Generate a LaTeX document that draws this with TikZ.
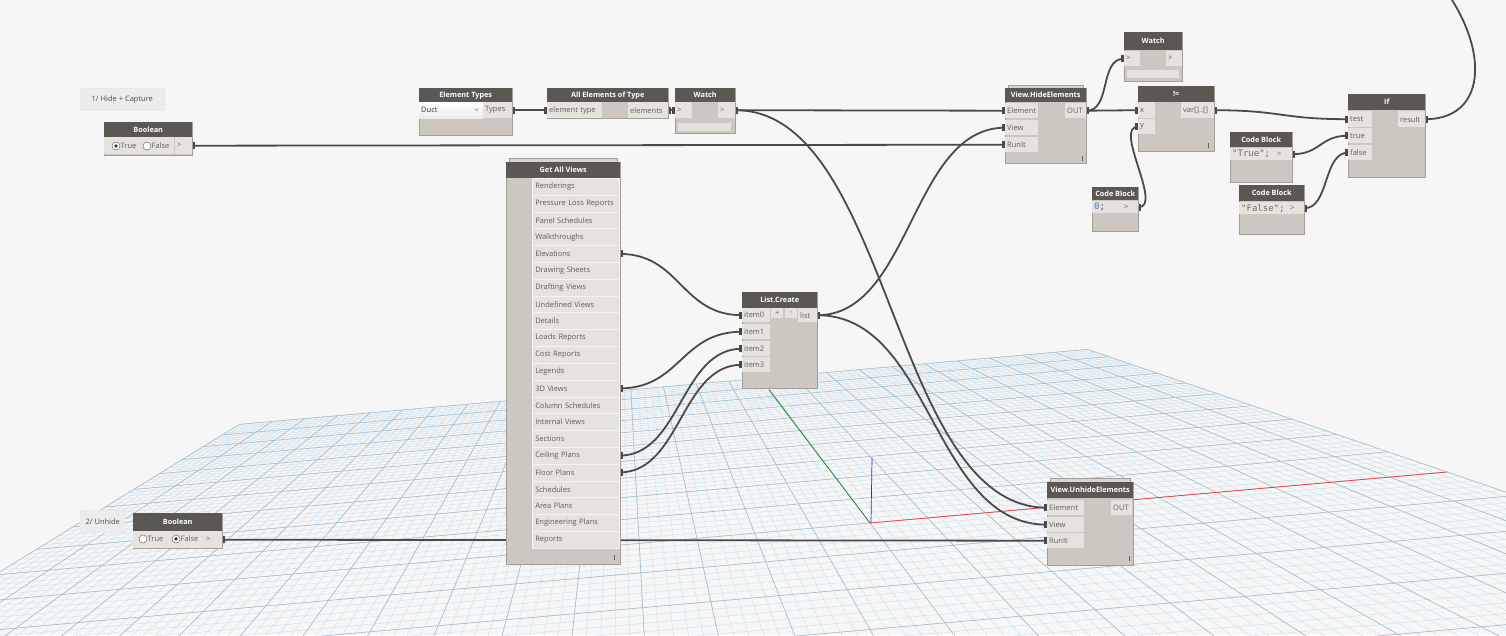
\documentclass[tikz,border=0pt]{standalone}
\usepackage{fontspec}
\setmainfont{Open Sans}
\newfontfamily\codefont{DejaVu Sans Mono}
\usetikzlibrary{calc}
\pgfdeclarelayer{gridlayer}
\pgfdeclarelayer{wirelayer}
\pgfsetlayers{gridlayer,wirelayer,main}
\definecolor{canvasc}{HTML}{F6F6F6}
\definecolor{hdrc}{HTML}{5B5853}
\definecolor{bodyc}{HTML}{CCC8C1}
\definecolor{portc}{HTML}{E6E3DE}
\definecolor{bordc}{HTML}{A29E98}
\definecolor{ptxt}{HTML}{5E5E5E}
\definecolor{wirec}{HTML}{4A4A4A}
\definecolor{gminc}{HTML}{D0E3EF}
\definecolor{gmajc}{HTML}{A9BCC8}
\definecolor{notec}{HTML}{ECECEC}
\definecolor{lipc}{HTML}{D8D5D0}
\definecolor{strc}{HTML}{7E675C}
\definecolor{numc}{HTML}{3A7BD0}
\newcommand\fs{\fontsize{7.5}{8.5}\selectfont}
\newcommand\fh{\fontsize{7.3}{8.5}\selectfont}
\tikzset{
  nbody/.style={draw=bordc, line width=0.6pt, fill=bodyc, inner sep=0pt, anchor=north west},
  nhead/.style={fill=hdrc, inner sep=0pt, anchor=north west, text=white, font=\bfseries\fh},
  pbox/.style={fill=portc, inner sep=0pt, inner xsep=2pt, anchor=north west, align=left, text=ptxt, font=\fs},
  gvrow/.style={fill=portc, draw=white!60!portc, line width=0.5pt, inner sep=0pt, inner xsep=3pt, anchor=north west, align=left, text=ptxt, font=\fs, text width=81pt},
  ptext/.style={inner sep=0pt, text=ptxt, font=\fs},
  wire/.style={draw=wirec, line width=1.8pt},
  gmin/.style={draw=gminc, line width=0.5pt},
  gmaj/.style={draw=gmajc, line width=0.6pt},
  note/.style={fill=notec, draw=black!9, line width=0.5pt, anchor=north west, inner sep=0pt, text=black!70, font=\fs},
  radio/.style={draw=black!60, fill=white, line width=0.5pt},
  infomark/.style={draw=ptxt, line width=0.6pt},
  lip/.style={fill=lipc, draw=bordc, line width=0.4pt},
  bar/.style={fill=portc, draw=none},
  codetxt/.style={font=\codefont\fontsize{9}{9}\selectfont},
}
% name, x, y, w, h, header height, title
\newcommand\dnode[7]{%
  \node[nbody, minimum width=#4pt, minimum height=#5pt] (#1) at (#2,#3) {};
  \node[nhead, minimum width=#4pt, minimum height=#6pt] (#1-h) at (#2,#3) {#7};}
% name, x, y, w, h, text
\newcommand\pb[6]{%
  \pgfmathsetlengthmacro\tw{#4-4}%
  \node[pbox, text width=\tw, minimum height=#5pt] (#1) at (#2,#3) {\mbox{#6}};}
\newcommand\wire[2]{%
  \draw[wire] let \p1=(#1), \p2=(#2), \n1={max(abs(\x2-\x1)/2,25)} in
    (\p1) .. controls ($(\p1)+(\n1,0)$) and ($(\p2)-(\n1,0)$) .. (\p2);
  \fill[wirec] ($(#1)+(0,-3.5)$) rectangle ($(#1)+(3,3.5)$);
  \fill[wirec] ($(#2)+(-3,-3.5)$) rectangle ($(#2)+(0,3.5)$);}
\begin{document}
\begin{tikzpicture}[x=1pt,y=-1pt]
\useasboundingbox (0,0) rectangle (1506,635);
% ---------- background and perspective grid
\begin{pgfonlayer}{gridlayer}
\fill[canvasc] (0,0) rectangle (1506,635);
\begin{scope}
\clip (0,0) rectangle (1506,635);
\foreach \v in {-50,...,50} {
  \pgfmathsetmacro\s{\v/65}
  \pgfmathsetmacro\xa{(870+620*\s-923.2)/(1+\s)}
  \pgfmathsetmacro\ya{(523+190*\s+81.6)/(1+\s)}
  \pgfmathsetmacro\xb{(870+620*\s+577)/(1+\s)}
  \pgfmathsetmacro\yb{(523+190*\s-51)/(1+\s)}
  \draw[gmin] (\xa,\ya) -- (\xb,\yb);
}
\foreach \u in {-80,...,50} {
  \pgfmathsetmacro\xa{(393.08+11.54*\u)/0.23077}
  \pgfmathsetmacro\ya{(376.85-1.02*\u)/0.23077}
  \pgfmathsetmacro\xb{(1346.92+11.54*\u)/1.76923}
  \pgfmathsetmacro\yb{(669.15-1.02*\u)/1.76923}
  \draw[gmin] (\xa,\ya) -- (\xb,\yb);
}
\foreach \v in {-50,-45,...,50} {
  \pgfmathsetmacro\s{\v/65}
  \pgfmathsetmacro\xa{(870+620*\s-923.2)/(1+\s)}
  \pgfmathsetmacro\ya{(523+190*\s+81.6)/(1+\s)}
  \pgfmathsetmacro\xb{(870+620*\s+577)/(1+\s)}
  \pgfmathsetmacro\yb{(523+190*\s-51)/(1+\s)}
  \draw[gmaj] (\xa,\ya) -- (\xb,\yb);
}
\foreach \u in {-80,-75,...,50} {
  \pgfmathsetmacro\xa{(393.08+11.54*\u)/0.23077}
  \pgfmathsetmacro\ya{(376.85-1.02*\u)/0.23077}
  \pgfmathsetmacro\xb{(1346.92+11.54*\u)/1.76923}
  \pgfmathsetmacro\yb{(669.15-1.02*\u)/1.76923}
  \draw[gmaj] (\xa,\ya) -- (\xb,\yb);
}
\end{scope}
\draw[red!80, line width=0.7pt] (870,523) -- (1447,472);
\draw[green!50!black, line width=0.6pt] (870,523) -- (769,390);
\draw[blue!85, line width=0.7pt] (871,523) -- (872,458);
\end{pgfonlayer}

% ---------- notes
\node[note, minimum width=84pt, minimum height=22pt] (note1) at (80,88) {1/ Hide + Capture};
\node[note, minimum width=45pt, minimum height=22pt] (note2) at (80,510) {2/ Unhide};

% ---------- Boolean (top)
\dnode{bool1}{104}{122}{88}{33}{15}{Boolean}
\node[pbox, minimum width=70pt, minimum height=17pt, text width=66pt] (bool1-sel) at (104,137) {};
\draw[radio] (116,146) circle (4);
\fill[black!80] (116,146) circle (1.8);
\node[ptext, anchor=west] (bool1-t) at (120.5,146) {True};
\draw[radio] (147,146) circle (4);
\node[ptext, anchor=west] (bool1-f) at (151.5,146) {False};
\pb{bool1-out}{175}{137}{17}{17}{>}

% ---------- Element Types
\dnode{eltypes}{419}{88}{93}{47}{14}{Element Types}
\node[pbox, top color=white, bottom color=black!8, text=black!80, minimum height=16pt, text width=60pt] (eltypes-dd) at (419,102) {Duct};
\draw[black!45, line width=0.5pt] (474.5,108.5) -- (476.5,110.5) -- (478.5,108.5);
\pb{eltypes-out}{483}{102}{29}{16}{Types}

% ---------- All Elements of Type
\dnode{allel}{547}{88}{121}{30}{14}{All Elements of Type}
\pb{allel-in}{547}{102}{55}{16}{element type}
\pb{allel-out}{628}{102}{40}{16}{elements}

% ---------- Watch 1
\dnode{watch1}{675}{88}{60}{45}{14}{Watch}
\pb{watch1-in}{675}{102}{17}{16}{>}
\pb{watch1-out}{718}{102}{17}{16}{>}
\fill[bar] (678,123) rectangle (731,131);

% ---------- View.HideElements
\fill[lip] (1008,85) rectangle (1083,88);
\dnode{hide}{1005}{88}{81}{75}{14}{View.HideElements}
\pb{hide-el}{1005}{103}{33}{15}{Element}
\pb{hide-view}{1005}{120}{33}{15}{View}
\pb{hide-run}{1005}{137}{33}{15}{RunIt}
\pb{hide-out}{1065}{103}{21}{15}{OUT}
\draw[infomark] (1082,156) -- (1082,161);

% ---------- Watch 2
\dnode{watch2}{1124}{32}{58}{49}{18}{Watch}
\pb{watch2-in}{1124}{51}{16}{15}{>}
\pb{watch2-out}{1166}{51}{16}{15}{>}
\fill[bar] (1127,70) rectangle (1179,78);

% ---------- !=
\dnode{neq}{1138}{86}{76}{65}{16}{!=}
\pb{neq-x}{1138}{102}{17}{16}{x}
\pb{neq-y}{1138}{119}{17}{15}{y}
\pb{neq-out}{1181}{102}{33}{16}{var[]..[]}
\draw[infomark] (1208,143) -- (1208,148);

% ---------- Code Block 0;
\dnode{cb0}{1092}{187}{46}{44}{13}{Code Block}
\node[pbox, minimum height=12pt, text width=26pt, codetxt] (cb0-txt) at (1092,201) {\textcolor{numc}{0}\textcolor{black!75}{;}};
\pb{cb0-out}{1122}{201}{16}{12}{>}

% ---------- Code Block "True";
\dnode{cbT}{1230}{132}{62}{50}{15}{Code Block}
\node[pbox, minimum height=12pt, text width=41pt, text=strc, codetxt] (cbT-txt) at (1230,148) {\mbox{"True";}};
\pb{cbT-out}{1275}{148}{17}{12}{>}

% ---------- Code Block "False";
\dnode{cbF}{1239}{185}{65}{49}{16}{Code Block}
\node[pbox, minimum height=12pt, text width=45pt, text=strc, codetxt] (cbF-txt) at (1239,202) {\mbox{"False";}};
\pb{cbF-out}{1288}{202}{16}{12}{>}

% ---------- If
\dnode{ifn}{1348}{94}{77}{83}{16}{If}
\pb{if-test}{1348}{111}{24}{16}{test}
\pb{if-true}{1348}{128}{24}{15}{true}
\pb{if-false}{1348}{145}{24}{15}{false}
\pb{if-result}{1398}{111}{27}{16}{result}
\coordinate (if-dest) at (1420,-40);

% ---------- Get All Views
\fill[lip] (509,158) rectangle (617,162);
\dnode{gav}{506}{162}{114}{402}{16}{Get All Views}
\foreach \t [count=\i] in {Renderings,Pressure Loss Reports,Panel Schedules,Walkthroughs,Elevations,Drawing Sheets,Drafting Views,Undefined Views,Details,Loads Reports,Cost Reports,Legends,3D Views,Column Schedules,Internal Views,Sections,Ceiling Plans,Floor Plans,Schedules,Area Plans,Engineering Plans,Reports} {
  \pgfmathsetmacro\yy{178+(\i-1)*16.81}
  \node[gvrow, minimum height=16.81pt] (gav-\i) at (532,\yy) {\mbox{\t}};
}
\draw[infomark] (614,555) -- (614,560);

% ---------- List.Create
\dnode{lc}{742}{292}{75}{96}{16}{List.Create}
\pb{lc-i0}{742}{308}{28}{14}{item0}
\pb{lc-i1}{742}{324}{28}{15}{item1}
\pb{lc-i2}{742}{341}{28}{15}{item2}
\pb{lc-i3}{742}{357}{28}{15}{item3}
\node[pbox, minimum width=12pt, minimum height=10pt, align=center] (lc-plus) at (771,308) {+};
\node[pbox, minimum width=12pt, minimum height=10pt, align=center] (lc-minus) at (785,308) {-};
\pb{lc-list}{798}{308}{19}{14}{list}

% ---------- View.UnhideElements
\fill[lip] (1050,478) rectangle (1130,482);
\dnode{unhide}{1047}{482}{86}{83}{16}{View.UnhideElements}
\pb{unhide-el}{1047}{500}{37}{15}{Element}
\pb{unhide-view}{1047}{517}{37}{15}{View}
\pb{unhide-run}{1047}{533}{37}{15}{RunIt}
\pb{unhide-out}{1111}{500}{21}{15}{OUT}
\draw[infomark] (1129,556) -- (1129,561);

% ---------- Boolean (bottom)
\dnode{bool2}{133}{513}{89}{35}{18}{Boolean}
\node[pbox, minimum width=71pt, minimum height=17pt, text width=67pt] (bool2-sel) at (133,531) {};
\draw[radio] (143,539) circle (4);
\node[ptext, anchor=west] (bool2-t) at (147.5,539) {True};
\draw[radio] (176,539) circle (4);
\fill[black!80] (176,539) circle (1.8);
\node[ptext, anchor=west] (bool2-f) at (180.5,539) {False};
\pb{bool2-out}{204}{531}{18}{17}{>}

% ---------- connectors
\begin{pgfonlayer}{wirelayer}
\wire{eltypes-out.east}{allel-in.west}
\wire{allel-out.east}{watch1-in.west}
\wire{watch1-out.east}{hide-el.west}
\wire{watch1-out.east}{unhide-el.west}
\wire{bool1-out.east}{hide-run.west}
\wire{gav-5.east}{lc-i0.west}
\wire{gav-13.east}{lc-i1.west}
\wire{gav-17.east}{lc-i2.west}
\wire{gav-18.east}{lc-i3.west}
\wire{lc-list.east}{hide-view.west}
\wire{lc-list.east}{unhide-view.west}
\wire{bool2-out.east}{unhide-run.west}
\wire{hide-out.east}{watch2-in.west}
\wire{hide-out.east}{neq-x.west}
\wire{cb0-out.east}{neq-y.west}
\wire{neq-out.east}{if-test.west}
\wire{cbT-out.east}{if-true.west}
\wire{cbF-out.east}{if-false.west}
\draw[wire] (if-result.east) .. controls (1495,119) and (1490,30) .. (if-dest);
\fill[wirec] ($(if-result.east)+(0,-3.5)$) rectangle ($(if-result.east)+(3,3.5)$);
\end{pgfonlayer}
\end{tikzpicture}
\end{document}
